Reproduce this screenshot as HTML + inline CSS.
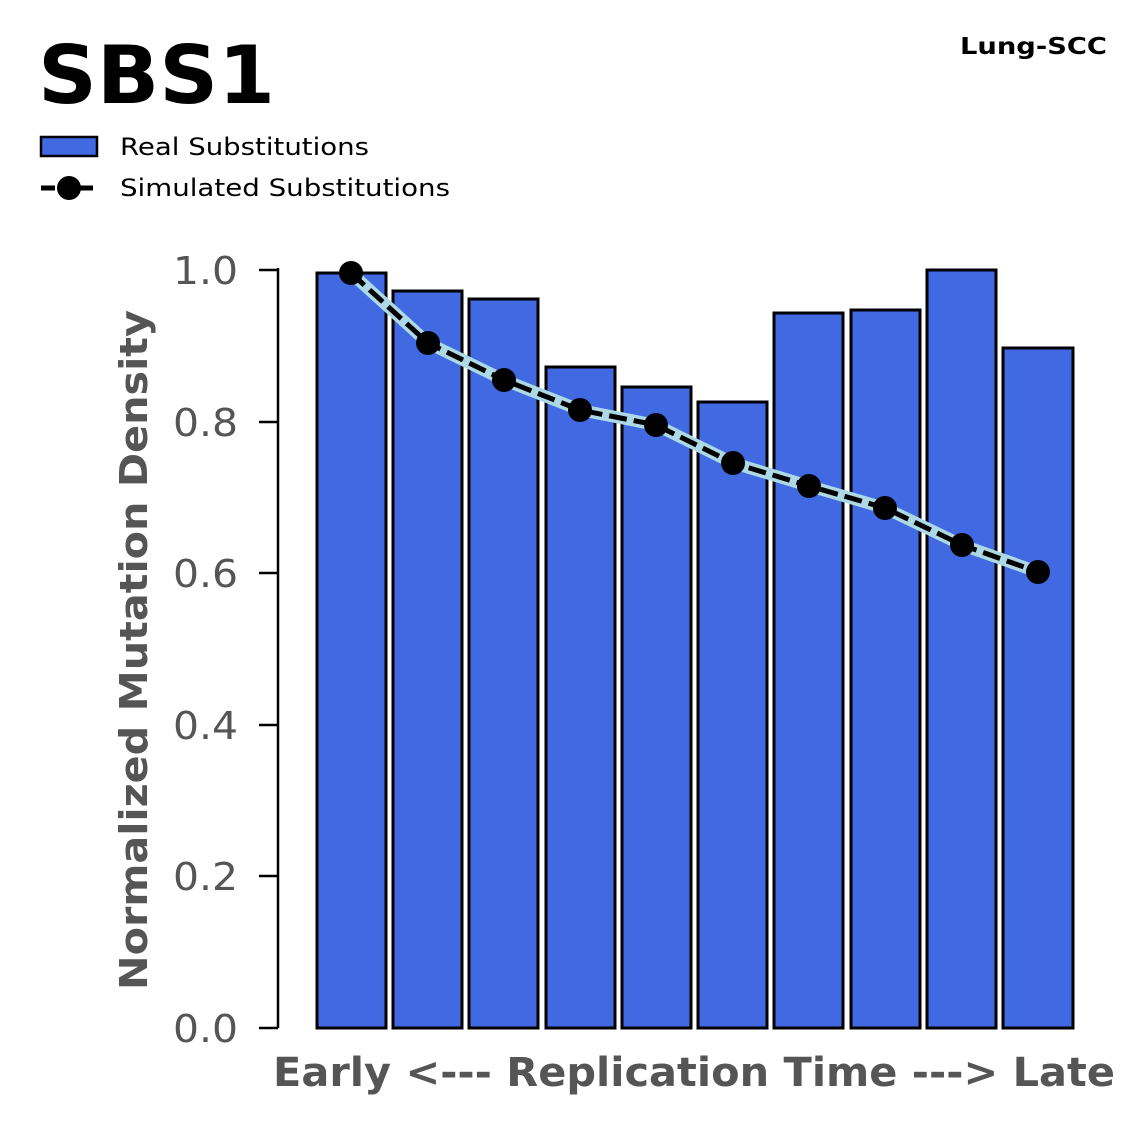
<!DOCTYPE html>
<html><head><meta charset="utf-8"><style>
html,body{margin:0;padding:0;background:#fff;}
</style></head><body>
<svg width="1147" height="1125" viewBox="0 0 1147 1125" xmlns="http://www.w3.org/2000/svg" font-family="'DejaVu Sans','Liberation Sans',sans-serif">
<rect width="1147" height="1125" fill="#fff"/>
<text x="38" y="103" font-size="80" font-weight="bold" fill="#000" textLength="237" lengthAdjust="spacingAndGlyphs">SBS1</text>
<text x="960" y="54" font-size="23" font-weight="bold" fill="#000" textLength="147" lengthAdjust="spacingAndGlyphs">Lung-SCC</text>
<rect x="41" y="137" width="56" height="19" fill="#4169e1" stroke="#000" stroke-width="2.5"/>
<text x="120" y="155" font-size="24" fill="#000" textLength="249" lengthAdjust="spacingAndGlyphs">Real Substitutions</text>
<line x1="41" y1="188" x2="97" y2="188" stroke="#000" stroke-width="5" stroke-dasharray="14,5"/>
<circle cx="69" cy="188" r="12" fill="#000"/>
<text x="120" y="196" font-size="24" fill="#000" textLength="330" lengthAdjust="spacingAndGlyphs">Simulated Substitutions</text>
<g fill="#4169e1" stroke="#000" stroke-width="3">
<rect x="317" y="273" width="69" height="755"/>
<rect x="393" y="291" width="69" height="737"/>
<rect x="469" y="299" width="69" height="729"/>
<rect x="546" y="367" width="69" height="661"/>
<rect x="622" y="387" width="69" height="641"/>
<rect x="698" y="402" width="69" height="626"/>
<rect x="774" y="313" width="69" height="715"/>
<rect x="851" y="310" width="69" height="718"/>
<rect x="927" y="270" width="69" height="758"/>
<rect x="1003" y="348" width="70" height="680"/>
</g>
<line x1="278" y1="268" x2="278" y2="1028" stroke="#000" stroke-width="2.5"/>
<g stroke="#000" stroke-width="2.5">
<line x1="259" y1="270" x2="278" y2="270"/><line x1="259" y1="422" x2="278" y2="422"/>
<line x1="259" y1="573" x2="278" y2="573"/><line x1="259" y1="725" x2="278" y2="725"/>
<line x1="259" y1="876" x2="278" y2="876"/><line x1="259" y1="1028" x2="278" y2="1028"/>
</g>
<g font-size="38" fill="#555">
<text x="173" y="284" textLength="65" lengthAdjust="spacingAndGlyphs">1.0</text>
<text x="173" y="436" textLength="65" lengthAdjust="spacingAndGlyphs">0.8</text>
<text x="173" y="587" textLength="65" lengthAdjust="spacingAndGlyphs">0.6</text>
<text x="173" y="739" textLength="65" lengthAdjust="spacingAndGlyphs">0.4</text>
<text x="173" y="890" textLength="65" lengthAdjust="spacingAndGlyphs">0.2</text>
<text x="173" y="1042" textLength="65" lengthAdjust="spacingAndGlyphs">0.0</text>
</g>
<text x="273" y="1086" font-size="40" font-weight="bold" fill="#555" textLength="842" lengthAdjust="spacingAndGlyphs">Early &lt;--- Replication Time ---&gt; Late</text>
<text transform="translate(147,990) rotate(-90)" font-size="38" font-weight="bold" fill="#555" textLength="680" lengthAdjust="spacingAndGlyphs">Normalized Mutation Density</text>
<polyline points="351,273 428,343 504,380 580,410 656,425 733,463 809,486 885,508 962,545 1038,572" fill="none" stroke="#add8e6" stroke-width="12"/>
<polyline points="351,273 428,343 504,380 580,410 656,425 733,463 809,486 885,508 962,545 1038,572" fill="none" stroke="#000" stroke-width="5" stroke-dasharray="18,7"/>
<g fill="#000">
<circle cx="351" cy="273" r="12"/><circle cx="428" cy="343" r="12"/><circle cx="504" cy="380" r="12"/>
<circle cx="580" cy="410" r="12"/><circle cx="656" cy="425" r="12"/><circle cx="733" cy="463" r="12"/>
<circle cx="809" cy="486" r="12"/><circle cx="885" cy="508" r="12"/><circle cx="962" cy="545" r="12"/>
<circle cx="1038" cy="572" r="12"/>
</g>
</svg>
</body></html>
